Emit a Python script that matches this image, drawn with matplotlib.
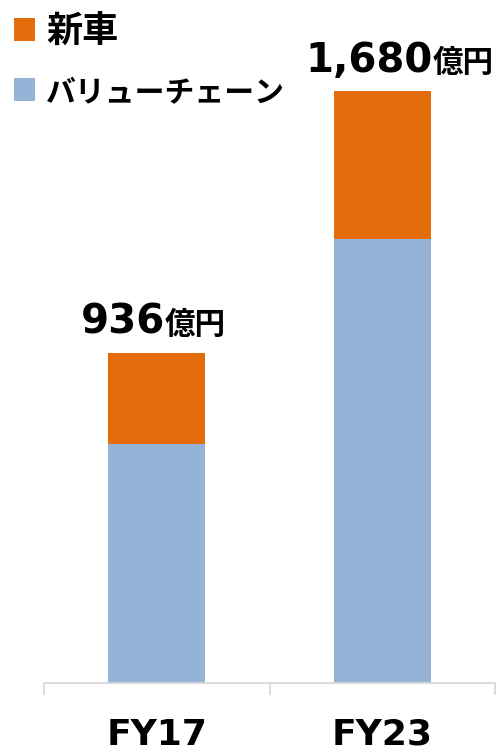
import matplotlib.pyplot as plt
from matplotlib.ticker import FixedLocator

# Data (億円)
years = ['FY17', 'FY23']
value_chain = [679, 1260]
new_cars = [257, 420]
totals = [936, 1680]
series_names = ['バリューチェーン', '新車']

BLUE = '#95B3D7'
ORANGE = '#E46C0A'
GREY = '#D9D9D9'
JP = 'Noto Sans CJK JP'

fig = plt.figure(figsize=(4.97, 7.52), dpi=100)
ax = fig.add_axes([44 / 497, 69 / 752, 451 / 497, 683 / 752])

x = range(len(years))
b1 = ax.bar(x, value_chain, width=0.43, color=BLUE)
b2 = ax.bar(x, new_cars, width=0.43, bottom=value_chain, color=ORANGE)

ax.set_xlim(-0.5, 1.5)
ax.set_ylim(0, 1939)

# Axis styling
for side in ['top', 'right', 'left']:
    ax.spines[side].set_visible(False)
ax.spines['bottom'].set_color(GREY)
ax.spines['bottom'].set_linewidth(1.3)
ax.set_yticks([])
ax.set_xticks(list(x))
ax.set_xticklabels(years, fontsize=26, fontweight='bold', family='DejaVu Sans')
ax.tick_params(axis='x', which='major', length=0, pad=25)
ax.xaxis.set_minor_locator(FixedLocator([-0.5, 0.5, 1.5]))
ax.tick_params(axis='x', which='minor', length=8.5, width=1.3, color=GREY)

# Total labels: number + unit
junction_px = [8, 50]
for i, tot in enumerate(totals):
    off = junction_px[i] * 0.72
    ax.annotate(f'{tot:,}', (i, tot), xytext=(off, 14), textcoords='offset points',
                ha='right', va='baseline', fontsize=29, fontweight='bold',
                family='DejaVu Sans')
    ax.annotate('億円', (i, tot), xytext=(off, 14), textcoords='offset points',
                ha='left', va='baseline', fontsize=22, fontweight='bold', family=JP)

# Legend
leg = ax.legend([b2, b1], series_names[::-1], loc='upper left',
                bbox_to_anchor=(-11 / 497, 1.016), bbox_transform=fig.transFigure,
                frameon=False, prop={'family': JP, 'weight': 'bold', 'size': 26},
                handlelength=0.58, handleheight=0.58, handletextpad=0.3,
                labelspacing=0.78, borderpad=0.2)
leg.get_texts()[1].set_fontsize(21.5)

fig.savefig('out.png', dpi=100)
